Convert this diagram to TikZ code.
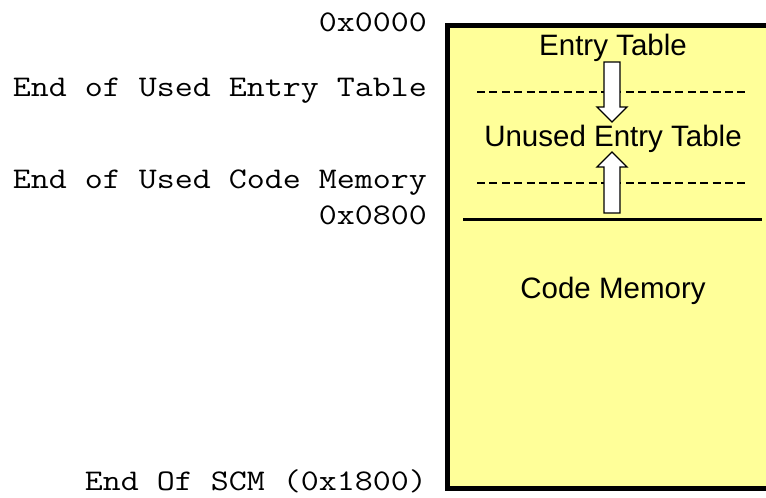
\documentclass[tikz,border=0pt]{standalone}
\usepackage{fontspec}
\setmainfont{Liberation Sans}
\definecolor{memyellow}{HTML}{FFFF99}
\newcommand{\addrtext}[1]{\scalebox{1.165}[1]{\ttfamily\fontsize{30}{30}\selectfont #1}}
\tikzset{
  addr/.style={anchor=base east, inner sep=0pt},
  region/.style={anchor=base, inner sep=0pt, font=\fontsize{29.5}{29.5}\selectfont},
  blockarrow/.style={draw=black, fill=white, line width=1.3pt, line join=miter},
  boundary/.style={line width=2.4pt, dash pattern=on 8pt off 4.4pt},
}
\begin{document}
\begin{tikzpicture}[x=1pt,y=-1pt]
  \useasboundingbox (0,0) rectangle (766,498);
  \begin{scope}
    \clip (0,0) rectangle (766,498);
    % memory block
    \draw[line width=5pt, fill=memyellow] (447.5,25.5) rectangle (781,488.5);
  \end{scope}

  % boundaries inside the block
  \draw[boundary] (477,92) -- (747,92);
  \draw[boundary] (477,183) -- (747,183);
  \draw[line width=3pt] (463,219) -- (762,219);

  % growth arrows
  \draw[blockarrow] (604,62) -- (620,62) -- (620,107) -- (627,107) -- (612,122)
    -- (597,107) -- (604,107) -- cycle;
  \draw[blockarrow] (604,213) -- (620,213) -- (620,167) -- (627,167) -- (612,152)
    -- (597,167) -- (604,167) -- cycle;

  % region names
  \node[region] (entry) at (613,55) {Entry Table};
  \node[region] (unused) at (613,146) {Unused Entry Table};
  \node[region] (code) at (613,298) {Code Memory};

  % addresses
  \node[addr] (a0) at (427,31) {\addrtext{0x0000}};
  \node[addr] (a1) at (427,96) {\addrtext{End of Used Entry Table}};
  \node[addr] (a2) at (427,188) {\addrtext{End of Used Code Memory}};
  \node[addr] (a3) at (427,224) {\addrtext{0x0800}};
  \node[addr] (a4) at (427,490.5) {\addrtext{End Of SCM (0x1800)}};
\end{tikzpicture}
\end{document}
